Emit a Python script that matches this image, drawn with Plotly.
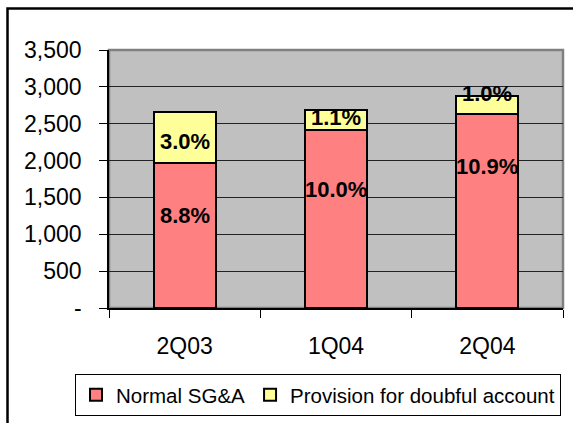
import plotly.graph_objects as go

# ---- data ----
quarters = ["2Q03", "1Q04", "2Q04"]
normal_sga = [1970, 2410, 2630]
provision = [690, 275, 240]
normal_pct = ["8.8%", "10.0%", "10.9%"]
provision_pct = ["3.0%", "1.1%", "1.0%"]
ytick_vals = [0, 500, 1000, 1500, 2000, 2500, 3000, 3500]
ytick_text = ["-", "500", "1,000", "1,500", "2,000", "2,500", "3,000", "3,500"]

# ---- style: relative label positions inside each segment ----
normal_label_frac = [0.64, 0.665, 0.73]
prov_label_frac = [0.42, 0.63, 1.15]

FONT = "Arial, Liberation Sans, sans-serif"

fig = go.Figure()
fig.add_trace(go.Bar(
    x=quarters, y=normal_sga, name="Normal SG&A",
    marker=dict(color="#FF8080", line=dict(color="black", width=2)),
    width=0.41, hoverinfo="skip",
))
fig.add_trace(go.Bar(
    x=quarters, y=provision, name="Provision for doubful account",
    marker=dict(color="#FFFF99", line=dict(color="black", width=2)),
    width=0.41, hoverinfo="skip",
))

annotations = []
for q, n, p, nt, pt, fn, fp in zip(quarters, normal_sga, provision, normal_pct,
                                   provision_pct, normal_label_frac, prov_label_frac):
    annotations.append(dict(x=q, y=n * fn, xref="x", yref="y", text=nt, showarrow=False,
                            font=dict(family=FONT, size=22, color="black", weight="bold")))
    annotations.append(dict(x=q, y=n + p * fp, xref="x", yref="y", text=pt, showarrow=False,
                            font=dict(family=FONT, size=22, color="black", weight="bold")))

L, R, T, B = 109, 10, 50, 115
W, H = 573, 423
pw, ph = W - L - R, H - T - B

shapes = [
    # plot-area border
    dict(type="rect", xref="paper", yref="paper", x0=0, x1=1, y0=0, y1=1,
         line=dict(color="#808080", width=2.5), layer="below"),
    # outer chart border
    dict(type="rect", xref="paper", yref="paper",
         x0=(7.5 - L) / pw, x1=(580 - L) / pw,
         y0=((H - B) - 430) / ph, y1=((H - B) - 8.5) / ph,
         line=dict(color="black", width=2.5)),
]

fig.update_layout(
    width=W, height=H,
    margin=dict(l=L, r=R, t=T, b=B, pad=0, autoexpand=False),
    barmode="stack",
    bargap=0.59,
    paper_bgcolor="white",
    plot_bgcolor="#C0C0C0",
    font=dict(family=FONT, size=22, color="black"),
    showlegend=True,
    legend=dict(
        orientation="h", traceorder="normal",
        x=(75 - L) / pw, xanchor="left",
        y=((H - B) - 374) / ph, yanchor="top",
        bordercolor="black", borderwidth=1, bgcolor="white",
        font=dict(family=FONT, size=20.5, color="black"),
        itemwidth=30,
    ),
    annotations=annotations,
    shapes=shapes,
    xaxis=dict(
        type="category", showgrid=False, showline=True, linecolor="black", linewidth=1.5,
        ticks="outside", tickson="boundaries", ticklen=8, tickcolor="black", tickwidth=1,
        tickfont=dict(family=FONT, size=23, color="black"),
        ticklabelstandoff=17, automargin=False,
    ),
    yaxis=dict(
        range=[0, 3500], tickvals=ytick_vals, ticktext=ytick_text,
        showgrid=True, gridcolor="#222222", gridwidth=1,
        showline=True, linecolor="black", linewidth=1.5,
        ticks="outside", ticklen=8, tickcolor="black", tickwidth=1,
        tickfont=dict(family=FONT, size=23, color="black"),
        ticklabelstandoff=13, zeroline=False, automargin=False,
    ),
)

fig.write_html(
    "out.html",
    config={"displayModeBar": False},
    post_script="document.body.style.margin='0';document.body.style.overflow='hidden';",
)
